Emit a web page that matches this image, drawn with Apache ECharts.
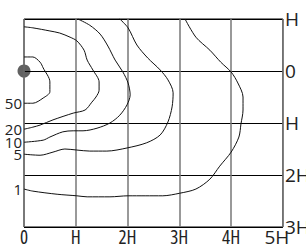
<!DOCTYPE html>
<html>
<head>
<meta charset="utf-8">
<script src="https://cdn.jsdelivr.net/npm/echarts@6/dist/echarts.min.js"></script>
<style>
  html, body { margin: 0; padding: 0; background: #fff; }
  #chart { width: 306px; height: 247px; }
</style>
</head>
<body>
<div id="chart"></div>
<script>
// distances in units of H; y grows downward
const xTicks = ['0', 'H', '2H', '3H', '4H', '5H']
const yTicks = { '-1': 'H', '0': '0', '1': 'H', '2': '2H', '3': '3H' }
const source = [[0, 0]]

const levels = ['50', '20', '10', '5', '1']
const curve50 = [[0, -0.27], [0.17, -0.27], [0.31, -0.17], [0.37, -0.06], [0.5, 0.21], [0.5, 0.4], [0.37, 0.52], [0.17, 0.62], [0, 0.62]]
const curve20 = [[0, -0.85], [0.17, -0.83], [0.5, -0.77], [0.69, -0.73], [0.89, -0.65], [1.02, -0.58], [1.16, -0.4], [1.22, -0.21], [1.33, -0.02], [1.45, 0.21], [1.45, 0.37], [1.39, 0.5], [1.31, 0.6], [1.18, 0.75], [0.95, 0.81], [0.56, 0.94], [0.31, 1.04], [0.17, 1.08], [0, 1.12]]
const curve10 = [[1.04, -1], [1.27, -0.88], [1.47, -0.71], [1.62, -0.48], [1.76, -0.21], [1.91, 0.02], [2.01, 0.23], [2.05, 0.46], [1.99, 0.65], [1.85, 0.85], [1.66, 1.0], [1.41, 1.1], [1.14, 1.15], [0.95, 1.15], [0.75, 1.17], [0.5, 1.27], [0.37, 1.33], [0, 1.37]]
const curve5 = [[1.85, -1], [2.01, -0.83], [2.18, -0.5], [2.39, -0.25], [2.63, -0.02], [2.78, 0.17], [2.88, 0.42], [2.86, 0.69], [2.78, 0.98], [2.63, 1.23], [2.37, 1.38], [1.99, 1.48], [1.6, 1.54], [1.27, 1.54], [1.02, 1.52], [0.79, 1.5], [0.56, 1.56], [0.31, 1.62], [0, 1.6]]
const curve1 = [[3.11, -1], [3.32, -0.65], [3.59, -0.4], [3.8, -0.17], [4.0, 0.02], [4.13, 0.23], [4.23, 0.5], [4.23, 0.75], [4.19, 1.02], [4.15, 1.27], [4.0, 1.56], [3.78, 1.83], [3.59, 2.08], [3.32, 2.27], [3.01, 2.35], [2.68, 2.4], [2.34, 2.4], [2.01, 2.4], [1.66, 2.42], [1.22, 2.42], [1.02, 2.4], [0.64, 2.37], [0.17, 2.31], [0, 2.27]]
const curves = [curve50, curve20, curve10, curve5, curve1]

// svg renderer keeps the 'condensed' keyword of the css font shorthand
const font = '"Open Sans", sans-serif'
const stretch = 'condensed'

const chart = echarts.init(document.getElementById('chart'), null, { renderer: 'svg' })

const contourSeries = curves.map((pts, i) => ({
  type: 'line',
  smooth: 0.3,
  symbol: 'circle',
  symbolSize: 0,
  showSymbol: true,
  showAllSymbol: true,
  clip: false,
  lineStyle: { color: '#111', width: 1 },
  data: pts.map((p, j) => j === pts.length - 1
    ? { value: p, label: { show: true, position: 'left', distance: 2, formatter: levels[i] } }
    : { value: p }),
  label: { color: '#222', fontFamily: font, fontStyle: stretch, fontSize: 15, lineHeight: 13 }
}))

chart.setOption({
  animation: false,
  grid: {
    left: 24,
    right: 23,
    top: 19,
    bottom: 20,
    show: true,
    borderColor: '#000',
    borderWidth: 1
  },
  xAxis: {
    type: 'value',
    min: 0,
    max: 5,
    interval: 1,
    axisLine: { show: false },
    axisTick: { show: false },
    splitLine: { lineStyle: { color: '#777', width: 1.5 } },
    axisLabel: {
      margin: 1,
      color: '#222',
      fontFamily: font,
      fontStyle: stretch,
      fontSize: 19,
      lineHeight: 18,
      formatter: v => v === 5 ? '{e|' + xTicks[v] + '}' : xTicks[v],
      rich: { e: { fontFamily: font, fontStyle: stretch, fontSize: 19, lineHeight: 18, color: '#222', padding: [0, 12, 0, 0] } }
    }
  },
  yAxis: {
    type: 'value',
    position: 'right',
    inverse: true,
    min: -1,
    max: 3,
    interval: 1,
    axisLine: { show: false },
    axisTick: { show: false },
    splitLine: { lineStyle: { color: '#000', width: 1 } },
    axisLabel: {
      margin: 2,
      color: '#222',
      fontFamily: font,
      fontStyle: stretch,
      fontSize: 19,
      formatter: v => yTicks[String(v)]
    }
  },
  series: contourSeries.concat([{
    type: 'scatter',
    clip: false,
    z: -1,
    symbolSize: 13,
    itemStyle: { color: '#3a3a3a' },
    data: source
  }])
})
</script>
</body>
</html>
